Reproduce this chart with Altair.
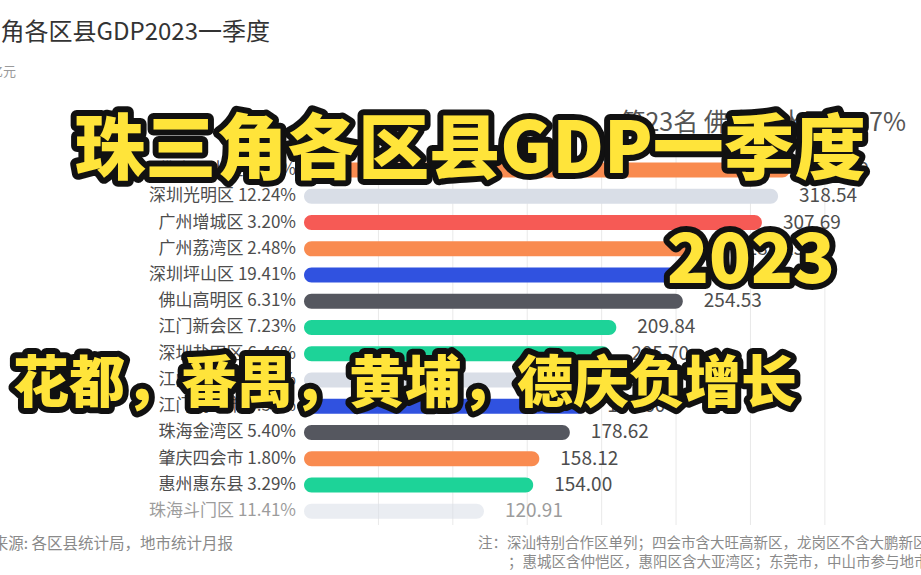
import altair as alt
import pandas as pd

names = ["佛山三水区", "深圳光明区", "广州增城区", "广州荔湾区", "深圳坪山区", "佛山高明区", "江门新会区",
         "深圳盐田区", "江门蓬江区", "江门鹤山市", "珠海金湾区", "肇庆四会市", "惠州惠东县", "珠海斗门区"]
gdp = [326.40, 318.54, 307.69, 283.15, 266.08, 254.53, 209.84,
       205.70, 197.30, 189.60, 178.62, 158.12, 154.00, 120.91]
growth = [4.17, 12.24, 3.20, 2.48, 19.41, 6.31, 7.23,
          6.46, 5.01, 3.58, 5.40, 1.80, 3.29, 11.41]
grid_ticks = [50, 100, 150, 200, 250, 300, 350]

row_colors = ["#F98B50", "#D9DEE7", "#F65A55", "#F98B50", "#3052E0", "#55575F", "#1DD398",
              "#1DD398", "#D9DEE7", "#3052E0", "#55575F", "#F98B50", "#1DD398", "#D9DEE7"]

title_text = "珠三角各区县GDP2023一季度"
subtitle_text = "单位：亿元"
rank_text = "第23名 佛山三水区 4.17%"
source_text = "数据来源: 各区县统计局，地市统计月报"
note_1 = "注：深汕特别合作区单列；四会市含大旺高新区，龙岗区不含大鹏新区"
note_2 = "；惠城区含仲恺区，惠阳区含大亚湾区；东莞市，中山市参与地市排名"
overlay_1 = "珠三角各区县GDP一季度"
overlay_2 = "2023"
overlay_3 = "花都，番禺，黄埔，德庆负增长"

FONT = "Noto Sans CJK SC"

df = pd.DataFrame({"name": names, "gdp": gdp, "growth": growth})
df["rank"] = list(range(len(df)))
df["zero"] = 0.0
df["label"] = [f"{n} {g:.2f}%" for n, g in zip(names, growth)]
df["faded"] = [1 if i == len(df) - 1 else 0 for i in range(len(df))]

xs = alt.Scale(domain=[-204.3, 414.6], nice=False, zero=False)
ys = alt.Scale(domain=[-6.292, 15.243], nice=False, zero=False, reverse=True)
op_scale = alt.Scale(domain=[0, 1], range=[1.0, 0.55])

grid = alt.Chart(pd.DataFrame({"t": grid_ticks})).mark_rule(color="#E9E9E9", strokeWidth=1).encode(
    x=alt.X("t:Q", scale=xs, axis=None),
    y=alt.value(145), y2=alt.value(525),
)

base = alt.Chart(df)

bars = base.mark_bar(size=15, cornerRadius=7.5).encode(
    x=alt.X("gdp:Q", scale=xs, axis=None),
    x2="zero:Q",
    y=alt.Y("rank:Q", scale=ys, axis=None),
    color=alt.Color("name:N", scale=alt.Scale(domain=names, range=row_colors), legend=None),
    opacity=alt.Opacity("faded:O", scale=op_scale, legend=None),
)

labels = base.mark_text(align="right", baseline="middle", dx=-8, fontSize=17, font=FONT, color="#4D4D4D").encode(
    x=alt.X("zero:Q", scale=xs, axis=None),
    y=alt.Y("rank:Q", scale=ys, axis=None),
    text="label:N",
    opacity=alt.Opacity("faded:O", scale=op_scale, legend=None),
)

values = base.mark_text(align="left", baseline="middle", dx=21, fontSize=19, font=FONT, color="#4D4D4D").encode(
    x=alt.X("gdp:Q", scale=xs, axis=None),
    y=alt.Y("rank:Q", scale=ys, axis=None),
    text=alt.Text("gdp:Q", format=".2f"),
    opacity=alt.Opacity("faded:O", scale=op_scale, legend=None),
)


def txt(s, x, y, **kw):
    return alt.Chart(pd.DataFrame({"t": [s]})).mark_text(font=FONT, **kw).encode(
        x=alt.value(x), y=alt.value(y), text="t:N")


title = txt(title_text, 270, 33, align="right", baseline="middle", fontSize=24, color="#333333")
subtitle = txt(subtitle_text, 16, 72, align="right", baseline="middle", fontSize=13, color="#9A9A9A")
rank_lbl = txt(rank_text, 906, 123, align="right", baseline="middle", fontSize=25, color="#555555")
source = txt(source_text, 233, 544, align="right", baseline="middle", fontSize=15.5, color="#8A8A8A")
n1 = txt(note_1, 478, 544, align="left", baseline="middle", fontSize=14.5, color="#8A8A8A")
n2 = txt(note_2, 508, 563, align="left", baseline="middle", fontSize=14.5, color="#8A8A8A")


def outlined(s, x, y, size, sw):
    back = txt(s, x, y, align="center", baseline="middle", fontSize=size, fontWeight=900,
               fill="#111111", stroke="#111111", strokeWidth=sw, strokeJoin="round")
    front = txt(s, x, y, align="center", baseline="middle", fontSize=size, fontWeight=900,
                fill="#FFE43A")
    return [back, front]


overlays = (outlined(overlay_1, 470, 152, 71, 12)
            + outlined(overlay_2, 751, 262, 69, 12)
            + outlined(overlay_3, 405, 385, 56, 12))

chart = alt.LayerChart(
    layer=[grid, bars, labels, values, title, subtitle, rank_lbl, source, n1, n2] + overlays
).properties(
    width=921, height=575, padding=0, background="white",
    autosize=alt.AutoSizeParams(type="none"),
).configure_view(stroke=None)

chart.save("out.html", embed_options={"renderer": "svg", "actions": False})
